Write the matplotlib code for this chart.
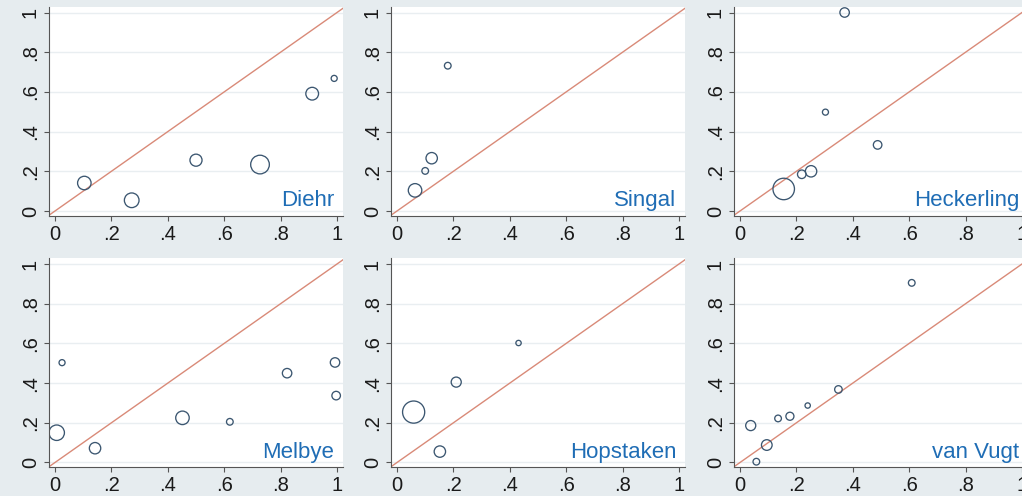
import numpy as np
import matplotlib
matplotlib.use("Agg")
from matplotlib import pyplot as plt

plt.rcParams['font.family'] = ['Liberation Sans', 'DejaVu Sans']

# studies, in panel order (row by row)
studies = ['Diehr', 'Singal', 'Heckerling', 'Melbye', 'Hopstaken', 'van Vugt']

# x / y values and relative bubble weights per study
diehr_x = [0.104, 0.272, 0.500, 0.727, 0.912, 0.990]
diehr_y = [0.141, 0.054, 0.256, 0.234, 0.591, 0.668]
diehr_w = [45, 53, 36, 86, 40, 9]

singal_x = [0.064, 0.100, 0.123, 0.180]
singal_y = [0.104, 0.202, 0.266, 0.732]
singal_w = [45, 11, 32, 11]

heckerling_x = [0.371, 0.303, 0.488, 0.252, 0.219, 0.155]
heckerling_y = [1.000, 0.498, 0.333, 0.200, 0.185, 0.111]
heckerling_w = [22, 9, 18, 32, 18, 114]

melbye_x = [0.006, 0.025, 0.142, 0.452, 0.620, 0.823, 0.993, 0.997]
melbye_y = [0.150, 0.503, 0.072, 0.225, 0.205, 0.450, 0.504, 0.337]
melbye_w = [59, 9, 32, 45, 11, 22, 22, 18]

hopstaken_x = [0.059, 0.152, 0.210, 0.431]
hopstaken_y = [0.254, 0.055, 0.405, 0.602]
hopstaken_w = [121, 32, 25, 7]

vanvugt_x = [0.609, 0.349, 0.240, 0.177, 0.135, 0.038, 0.095, 0.058]
vanvugt_y = [0.905, 0.368, 0.287, 0.233, 0.222, 0.186, 0.088, 0.004]
vanvugt_w = [11, 14, 7, 16, 11, 25, 28, 11]

tick_vals = [0, 0.2, 0.4, 0.6, 0.8, 1]
tick_labels = ['0', '.2', '.4', '.6', '.8', '1']

panels = [
    (diehr_x, diehr_y, diehr_w),
    (singal_x, singal_y, singal_w),
    (heckerling_x, heckerling_y, heckerling_w),
    (melbye_x, melbye_y, melbye_w),
    (hopstaken_x, hopstaken_y, hopstaken_w),
    (vanvugt_x, vanvugt_y, vanvugt_w),
]

W, H = 1022, 496
bg = '#e6ecef'
fig = plt.figure(figsize=(W / 100, H / 100), dpi=100, facecolor=bg)

xlo, xhi = -0.022, 1.02
ylo, yhi = -0.025, 1.03
col_x0 = [55, 397, 740]      # pixel position of x = 0
row_y0 = [211, 462.5]        # pixel position of y = 0
xunit, yunit = 282, 198.5

for i, (name, (xs, ys, ws)) in enumerate(zip(studies, panels)):
    r, c = divmod(i, 3)
    left = col_x0[c] + xlo * xunit
    width = (xhi - xlo) * xunit
    bottom = row_y0[r] - ylo * yunit
    height = (yhi - ylo) * yunit
    ax = fig.add_axes([left / W, 1 - bottom / H, width / W, height / H])
    ax.set_facecolor('white')
    ax.set_xlim(xlo, xhi)
    ax.set_ylim(ylo, yhi)

    for t in tick_vals:
        ax.axhline(t, color='#e9eef1', lw=1.0, zorder=0)

    ax.plot([-0.1, 1.1], [-0.1, 1.1], color='#d98a78', lw=1.0, zorder=1)
    sizes = np.array(ws) * 2.1
    ax.scatter(xs, ys, s=sizes, facecolors='none', edgecolors='#3b5670',
               linewidths=0.95, zorder=2)

    ax.text(0.99, 0.025, name, ha='right', va='baseline', color='#1f6db5',
            fontsize=16)

    for side in ['top', 'right']:
        ax.spines[side].set_visible(False)
    for side in ['left', 'bottom']:
        ax.spines[side].set_color('#555555')
        ax.spines[side].set_linewidth(0.8)

    ax.set_xticks(tick_vals)
    ax.set_xticklabels(tick_labels)
    ax.set_yticks(tick_vals)
    ax.set_yticklabels(tick_labels, rotation=90, va='center')
    ax.tick_params(length=3.5, width=0.8, color='#555555', labelsize=14.5,
                   labelcolor='#1a1a1a', pad=3)

fig.savefig('out.png', dpi=100, facecolor=bg)
